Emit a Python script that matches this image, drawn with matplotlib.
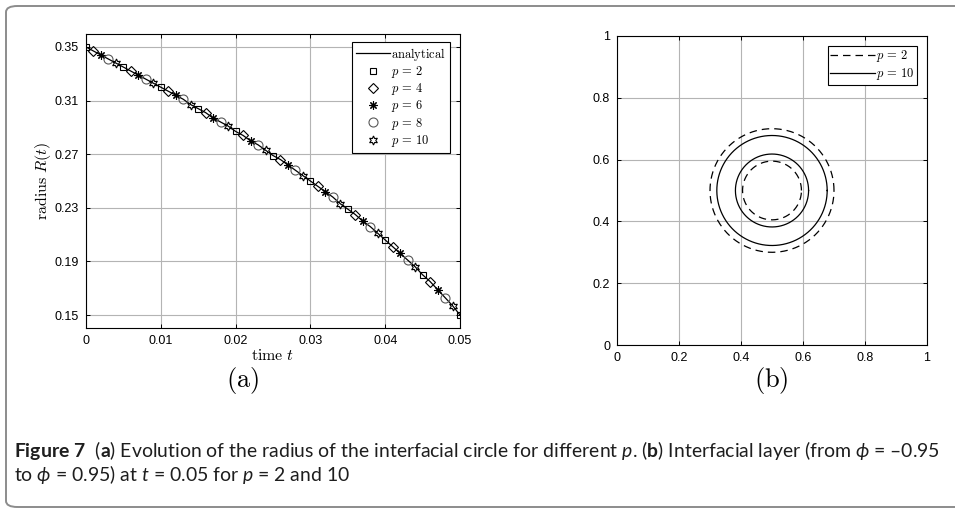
import matplotlib
matplotlib.use("Agg")
import matplotlib.pyplot as plt
import numpy as np
from matplotlib.patches import FancyBboxPatch

plt.rcParams["font.family"] = ["Liberation Sans", "DejaVu Sans"]
plt.rcParams["mathtext.fontset"] = "custom"
plt.rcParams["mathtext.rm"] = "Lato"
plt.rcParams["mathtext.it"] = "Lato:italic"
plt.rcParams["mathtext.bf"] = "Lato:bold"

# time samples (every 0.001) and radius of the circle at each sample
time = [i / 1000 for i in range(51)]
radius = [0.350, 0.347, 0.344, 0.341, 0.338, 0.335, 0.332, 0.329, 0.326, 0.323,
          0.320, 0.317, 0.314, 0.311, 0.307, 0.304, 0.301, 0.297, 0.294, 0.291,
          0.287, 0.284, 0.280, 0.277, 0.273, 0.269, 0.266, 0.262, 0.258, 0.254,
          0.250, 0.246, 0.242, 0.238, 0.233, 0.229, 0.225, 0.220, 0.216, 0.211,
          0.206, 0.201, 0.196, 0.191, 0.186, 0.180, 0.175, 0.169, 0.163, 0.157,
          0.150]

# each p is sampled every 5th step, shifted by one step per series
p_values = [2, 4, 6, 8, 10]
p_offsets = [0, 1, 2, 3, 4]
p_markers = ["s", "D", (8, 2, 0), "o", (6, 1, 0)]
p_sizes = [5.0, 4.8, 6.0, 6.5, 6.5]
p_colors = ["k", "k", "k", "0.35", "k"]

x_ticks = [0, 0.01, 0.02, 0.03, 0.04, 0.05]
y_ticks = [0.15, 0.19, 0.23, 0.27, 0.31, 0.35]

# inner/outer radius of the interfacial layer at t = 0.05
layer_center = (0.5, 0.5)
layer_p2 = [0.095, 0.200]
layer_p10 = [0.118, 0.178]
sq_ticks = [0, 0.2, 0.4, 0.6, 0.8, 1]

fig = plt.figure(figsize=(9.55, 5.09), dpi=100)

# border around the whole figure
fig.patches.append(FancyBboxPatch((6 / 955, 2 / 509), 1.05, 501 / 509,
                                  boxstyle="round,pad=0,rounding_size=0.012",
                                  transform=fig.transFigure, fc="none",
                                  ec="#8c8c8c", lw=1.4))


def style_axes(ax):
    ax.grid(True, color="#b4b4b4", lw=0.8)
    ax.set_axisbelow(True)
    ax.tick_params(direction="in", top=True, right=True, length=3,
                   labelsize=9, width=0.7, pad=5)
    for s in ax.spines.values():
        s.set_linewidth(0.8)


# (a) radius over time
ax1 = fig.add_axes([86 / 955, 181 / 509, 374 / 955, 294 / 509])
ax1.plot(time, radius, color="k", lw=0.9, label=r"$\mathrm{analytical}$")
for p, off, m, ms, c in zip(p_values, p_offsets, p_markers, p_sizes, p_colors):
    ax1.plot(time[off::5], radius[off::5], ls="none", marker=m, ms=ms,
             mfc="none", mec=c, mew=0.8, label=r"$p\,=\,%d$" % p)
ax1.set_xlim(0, 0.05)
ax1.set_ylim(0.1403, 0.3597)
ax1.set_xticks(x_ticks)
ax1.set_xticklabels(["0", "0.01", "0.02", "0.03", "0.04", "0.05"])
ax1.set_yticks(y_ticks)
ax1.set_yticklabels(["%.2f" % v for v in y_ticks])
style_axes(ax1)
xl = ax1.set_xlabel(r"$\mathrm{time}\ t$", fontsize=11.5, labelpad=1)
yl = ax1.set_ylabel(r"$\mathrm{radius}\ R(t)$", fontsize=11.5, labelpad=1)
xl.set_math_fontfamily("cm")
yl.set_math_fontfamily("cm")
leg1 = ax1.legend(loc="upper right", bbox_to_anchor=(450 / 955, 467 / 509),
                  bbox_transform=fig.transFigure, fontsize=9, frameon=True,
                  fancybox=False, edgecolor="k", framealpha=1,
                  handlelength=2.7, handletextpad=0.15, borderpad=0.3,
                  labelspacing=0.1, borderaxespad=0)
leg1.get_frame().set_linewidth(0.8)
for t in leg1.get_texts():
    t.set_math_fontfamily("cm")

# (b) interfacial layer
ax2 = fig.add_axes([617 / 955, 164 / 509, 310 / 955, 309 / 509])
theta = np.linspace(0, 2 * np.pi, 400)
for i, r in enumerate(layer_p2):
    ax2.plot(layer_center[0] + r * np.cos(theta),
             layer_center[1] + r * np.sin(theta), color="k", lw=0.9,
             ls=(0, (6, 4)), label=r"$p\,=\,2$" if i == 0 else None)
for i, r in enumerate(layer_p10):
    ax2.plot(layer_center[0] + r * np.cos(theta),
             layer_center[1] + r * np.sin(theta), color="k", lw=0.9,
             label=r"$p\,=\,10$" if i == 0 else None)
ax2.set_xlim(0, 1)
ax2.set_ylim(0, 1)
ax2.set_xticks(sq_ticks)
ax2.set_yticks(sq_ticks)
ax2.set_xticklabels(["0", "0.2", "0.4", "0.6", "0.8", "1"])
ax2.set_yticklabels(["0", "0.2", "0.4", "0.6", "0.8", "1"])
style_axes(ax2)
leg2 = ax2.legend(loc="upper right", bbox_to_anchor=(917 / 955, 463 / 509),
                  bbox_transform=fig.transFigure, fontsize=9, frameon=True,
                  fancybox=False, edgecolor="k", framealpha=1,
                  handlelength=3.6, handletextpad=0.05, borderpad=0.2,
                  labelspacing=0.15, borderaxespad=0)
leg2.get_frame().set_linewidth(0.8)
for t in leg2.get_texts():
    t.set_math_fontfamily("cm")

# panel letters
for x, s in [(243, "(a)"), (771, "(b)")]:
    t = fig.text(x / 955, 1 - 380 / 509, r"$\mathrm{%s}$" % s, fontsize=19,
                 ha="center", va="center")
    t.set_math_fontfamily("cm")

# caption
cap1 = (r"$\mathbf{Figure\ 7}$  ($\mathbf{a}$) Evolution of the radius of the "
        r"interfacial circle for different $\mathit{p}$. ($\mathbf{b}$) "
        r"Interfacial layer (from $\phi$ = –0.95")
cap2 = r"to $\phi$ = 0.95) at $\mathit{t}$ = 0.05 for $\mathit{p}$ = 2 and 10"
fig.text(14 / 955, 1 - 451 / 509, cap1, fontsize=13.95, family="Lato",
         ha="left", va="center", color="#1e1e1e")
fig.text(14 / 955, 1 - 474 / 509, cap2, fontsize=13.95, family="Lato",
         ha="left", va="center", color="#1e1e1e")

fig.savefig("out.png", dpi=100)
